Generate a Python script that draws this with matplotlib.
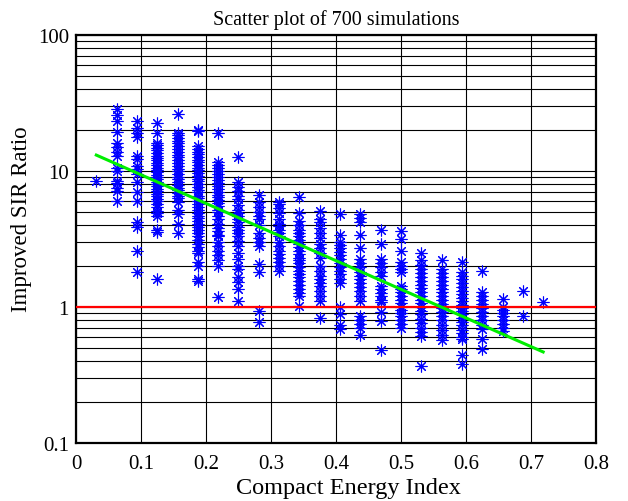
import numpy as np
import matplotlib
matplotlib.use("Agg")
import matplotlib.pyplot as plt
from matplotlib.ticker import FixedLocator, LogLocator, NullFormatter


# compact energy index of each simulation column
cei = [0.03125, 0.0625, 0.09375, 0.125, 0.15625, 0.1875, 0.21875, 0.25,
       0.28125, 0.3125, 0.34375, 0.375, 0.40625, 0.4375, 0.46875, 0.5,
       0.53125, 0.5625, 0.59375, 0.625, 0.65625, 0.6875, 0.71875]

sir_01 = [8.5]
sir_02 = [28.4, 26.0, 23.2, 19.5, 16.0, 15.0, 13.7, 13.0, 10.6, 10.0, 8.4, 8.1,
          7.5, 7.1, 6.0]
sir_03 = [23.2, 20.9, 19.2, 17.7, 12.8, 12.2, 10.8, 10.3, 9.5, 8.3, 7.0, 6.0,
          4.2, 3.9, 2.6, 1.8]
sir_04 = [22.6, 19.2, 16.2, 15.5, 14.8, 14.2, 13.6, 13.0, 12.5, 12.0, 11.5,
          11.0, 10.6, 10.2, 9.8, 9.4, 9.0, 8.7, 8.3, 8.0, 7.7, 7.4, 7.1, 6.8,
          6.5, 6.2, 6.0, 5.7, 5.4, 5.1, 4.9, 4.65, 3.7, 3.55, 1.6]
sir_05 = [26.1, 19.2, 18.4, 17.5, 16.7, 16.0, 15.2, 14.5, 13.8, 13.2, 12.6,
          12.0, 11.4, 10.9, 10.4, 10.0, 9.5, 9.1, 8.7, 8.3, 7.9, 7.5, 7.2, 6.9,
          6.6, 6.3, 5.9, 5.2, 4.8, 4.1, 3.5]
sir_06 = [20.2, 19.6, 15.2, 14.5, 13.9, 13.3, 12.7, 12.1, 11.6, 11.1, 10.6,
          10.1, 9.6, 9.2, 8.8, 8.4, 8.0, 7.6, 7.3, 7.0, 6.6, 6.3, 6.0, 5.7, 5.4,
          5.2, 4.9, 4.7, 4.5, 4.3, 4.1, 3.9, 3.7, 3.5, 3.3, 3.1, 2.9, 2.75, 2.6,
          2.5, 2.14, 2.0, 1.6, 1.55]
sir_07 = [19.2, 11.6, 11.0, 10.5, 10.0, 9.5, 9.0, 8.6, 8.2, 7.8, 7.4, 7.0, 6.7,
          6.4, 6.1, 5.8, 5.5, 5.2, 5.0, 4.7, 4.4, 4.1, 3.8, 3.6, 3.4, 3.3, 3.0,
          2.8, 2.6, 2.4, 2.2, 2.0, 1.18]
sir_08 = [12.6, 8.3, 7.6, 7.1, 6.6, 6.2, 5.6, 5.2, 4.9, 4.65, 4.4, 4.2, 3.9,
          3.7, 3.5, 3.3, 3.05, 2.8, 2.5, 2.25, 2.0, 1.9, 1.66, 1.53, 1.36, 1.1]
sir_09 = [6.7, 5.9, 5.4, 5.0, 4.7, 4.4, 4.0, 3.5, 3.2, 3.0, 2.8, 2.07, 1.8,
          0.94, 0.77]
sir_10 = [5.9, 5.7, 5.3, 4.9, 4.4, 4.1, 3.95, 3.7, 3.5, 3.3, 2.98, 2.8, 2.6,
          2.45, 2.3, 2.15, 2.0, 1.85]
sir_11 = [6.4, 4.95, 4.3, 4.0, 3.7, 3.5, 3.3, 3.1, 2.9, 2.75, 2.6, 2.45, 2.3,
          2.2, 2.1, 1.95, 1.85, 1.75, 1.65, 1.55, 1.45, 1.35, 1.27, 1.2, 1.02]
sir_12 = [5.1, 4.4, 4.2, 3.8, 3.5, 3.2, 2.9, 2.7, 2.5, 2.3, 2.0, 1.85, 1.7,
          1.6, 1.5, 1.42, 1.3, 1.2, 1.1, 0.83]
sir_13 = [4.8, 3.4, 3.0, 2.85, 2.7, 2.55, 2.4, 2.25, 2.1, 1.95, 1.85, 1.75, 1.6,
          1.5, 1.0, 0.89, 0.73, 0.69]
sir_14 = [4.8, 4.5, 4.2, 3.4, 2.7, 2.25, 2.1, 1.95, 1.8, 1.7, 1.6, 1.5, 1.4,
          1.3, 1.2, 1.1, 0.86, 0.8, 0.75, 0.7, 0.62]
sir_15 = [3.7, 2.9, 2.25, 2.1, 1.95, 1.8, 1.7, 1.43, 1.35, 1.27, 1.2, 1.13, 1.08,
          0.91, 0.79, 0.48]
sir_16 = [3.6, 3.15, 2.6, 2.13, 2.0, 1.9, 1.8, 1.43, 1.35, 1.28, 1.2, 1.13,
          1.07, 1.0, 0.95, 0.9, 0.85, 0.8, 0.75, 0.7]
sir_17 = [2.5, 2.2, 2.05, 1.9, 1.78, 1.65, 1.55, 1.45, 1.37, 1.29, 1.2, 1.13,
          1.06, 1.0, 0.94, 0.88, 0.82, 0.76, 0.7, 0.65, 0.61, 0.37]
sir_18 = [2.2, 1.9, 1.78, 1.65, 1.55, 1.45, 1.36, 1.28, 1.2, 1.12, 1.05, 0.98,
          0.92, 0.86, 0.8, 0.74, 0.68, 0.62, 0.57]
sir_19 = [2.14, 1.8, 1.7, 1.6, 1.5, 1.4, 1.32, 1.25, 1.17, 1.1, 1.04, 0.98,
          0.93, 0.88, 0.83, 0.78, 0.73, 0.68, 0.64, 0.6, 0.58, 0.44, 0.38]
sir_20 = [1.85, 1.28, 1.2, 1.12, 1.05, 0.98, 0.92, 0.86, 0.8, 0.74, 0.69, 0.58,
          0.49]
sir_21 = [1.14, 1.0, 0.95, 0.9, 0.85, 0.8, 0.75, 0.7, 0.67]
sir_22 = [1.31, 0.85]
sir_23 = [1.09]

# fitted trend line end points
fit_x = [0.03125, 0.71875]
fit_y = [13.1, 0.466]

columns = [sir_01, sir_02, sir_03, sir_04, sir_05, sir_06, sir_07, sir_08,
           sir_09, sir_10, sir_11, sir_12, sir_13, sir_14, sir_15, sir_16,
           sir_17, sir_18, sir_19, sir_20, sir_21, sir_22, sir_23]


def main():
    plt.rcParams['font.family'] = ['Liberation Serif', 'DejaVu Serif']

    fig = plt.figure(figsize=(6.28, 5.02), dpi=100)
    ax = fig.add_axes([0.121, 0.116, 0.828, 0.812])

    xs = []
    ys = []
    for x, col in zip(cei, columns):
        xs.extend([x] * len(col))
        ys.extend(col)

    ax.set_yscale('log')
    ax.set_xlim(0, 0.8)
    ax.set_ylim(0.1, 100)

    ax.yaxis.set_major_locator(FixedLocator([0.1, 1, 10, 100]))
    ax.set_yticklabels(['0.1', '1', '10', '100'])
    ax.yaxis.set_minor_locator(LogLocator(base=10, subs=np.arange(2, 10)))
    ax.yaxis.set_minor_formatter(NullFormatter())
    ax.set_xticks(np.arange(0, 0.81, 0.1))
    ax.set_xticklabels(['0', '0.1', '0.2', '0.3', '0.4', '0.5', '0.6', '0.7', '0.8'])

    ax.grid(True, which='both', axis='y', color='black', linewidth=0.8)
    ax.grid(True, which='major', axis='x', color='black', linewidth=0.8)
    ax.set_axisbelow(True)

    ax.plot(xs, ys, linestyle='none', marker=(8, 2, 0), markersize=8.5,
            markeredgewidth=0.8, color='#0000ff', zorder=3)
    ax.axhline(1, color='#ff0000', linewidth=1.6, zorder=4)
    ax.plot(fit_x, fit_y, color='#00ee00', linewidth=2.2, zorder=5)

    ax.tick_params(which='both', length=0, labelsize=15)
    ax.tick_params(axis='x', pad=8)
    ax.tick_params(axis='y', pad=5)
    for s in ax.spines.values():
        s.set_linewidth(1.6)

    ax.set_title("Scatter plot of 700 simulations", fontsize=14.5, pad=8)
    ax.set_xlabel("Compact Energy Index", fontsize=17.5)
    ax.set_ylabel("Improved SIR Ratio", fontsize=16.5)
    ax.xaxis.set_label_coords(0.523, -0.083)
    ax.yaxis.set_label_coords(-0.085, 0.55)

    fig.savefig("out.png", dpi=100)


if __name__ == '__main__':
    main()
